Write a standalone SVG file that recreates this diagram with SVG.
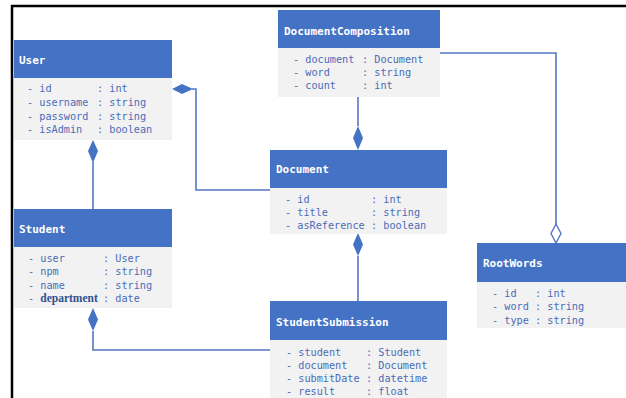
<svg xmlns="http://www.w3.org/2000/svg" width="626" height="398" viewBox="0 0 626 398">
<style>
.hdr{fill:#4472c4}
.body{fill:#f2f2f2}
.title{font-family:"DejaVu Sans Mono","Liberation Mono",monospace;font-size:11px;font-weight:bold;fill:#ffffff}
.attr{font-family:"DejaVu Sans Mono","Liberation Mono",monospace;font-size:10.2px;fill:#4a6cb8}
.conn{fill:none;stroke:#5676c4;stroke-width:1.6}
.fd{fill:#4472c4}
.od{fill:#ffffff;stroke:#5676c4;stroke-width:1.4}
</style>
<rect width="626" height="398" fill="#ffffff"/>
<path d="M12 398 V6 H626" fill="none" stroke="#000000" stroke-width="2.5"/>

<g id="connectors">
  <!-- User - Document -->
  <path class="conn" d="M192 89 H196 V190 H270"/>
  <polygon class="fd" points="172,89 182,84 193,89 182,94"/>
  <!-- User - Student -->
  <path class="conn" d="M93 162 V209"/>
  <polygon class="fd" points="93,140 98,151 93,163 88,151"/>
  <!-- DocumentComposition - Document -->
  <path class="conn" d="M358 97 V126"/>
  <polygon class="fd" points="358,126 363,138 358,150 353,138"/>
  <!-- DocumentComposition - RootWords -->
  <path class="conn" d="M438 53 H556 V224"/>
  <polygon class="od" points="556,224 561,233.5 556,243 551,233.5"/>
  <!-- Document - StudentSubmission -->
  <path class="conn" d="M358 256 V301"/>
  <polygon class="fd" points="358,233 363,244.5 358,256 353,244.5"/>
  <!-- Student - StudentSubmission -->
  <path class="conn" d="M93 331 V350 H270"/>
  <polygon class="fd" points="93,308 98,319.5 93,331 88,319.5"/>
</g>

<g id="User">
  <rect class="hdr" x="14" y="40" width="158" height="38"/>
  <rect class="body" x="14" y="78" width="158" height="62"/>
  <text class="title" x="19" y="64">User</text>
  <text class="attr" x="27" y="92">- id</text><text class="attr" x="97" y="92">: int</text>
  <text class="attr" x="27" y="105.5">- username</text><text class="attr" x="97" y="105.5">: string</text>
  <text class="attr" x="27" y="119.5">- password</text><text class="attr" x="97" y="119.5">: string</text>
  <text class="attr" x="27" y="133">- isAdmin</text><text class="attr" x="97" y="133">: boolean</text>
</g>

<g id="DocumentComposition">
  <rect class="hdr" x="278" y="10" width="162" height="38"/>
  <rect class="body" x="278" y="48" width="162" height="49"/>
  <text class="title" x="284" y="34.5">DocumentComposition</text>
  <text class="attr" x="293" y="63">- document</text><text class="attr" x="362" y="63">: Document</text>
  <text class="attr" x="293" y="76">- word</text><text class="attr" x="362" y="76">: string</text>
  <text class="attr" x="293" y="89">- count</text><text class="attr" x="362" y="89">: int</text>
</g>

<g id="Document">
  <rect class="hdr" x="270" y="150" width="177" height="38"/>
  <rect class="body" x="270" y="188" width="177" height="46"/>
  <text class="title" x="276" y="172.5">Document</text>
  <text class="attr" x="285" y="202.5">- id</text><text class="attr" x="371" y="202.5">: int</text>
  <text class="attr" x="285" y="215.5">- title</text><text class="attr" x="371" y="215.5">: string</text>
  <text class="attr" x="285" y="228.5">- asReference</text><text class="attr" x="371" y="228.5">: boolean</text>
</g>

<g id="Student">
  <rect class="hdr" x="14" y="209" width="158" height="38"/>
  <rect class="body" x="14" y="247" width="158" height="61"/>
  <text class="title" x="19" y="233">Student</text>
  <text class="attr" x="28" y="261.5">- user</text><text class="attr" x="103" y="261.5">: User</text>
  <text class="attr" x="28" y="275">- npm</text><text class="attr" x="103" y="275">: string</text>
  <text class="attr" x="28" y="288.5">- name</text><text class="attr" x="103" y="288.5">: string</text>
  <text class="attr" x="28" y="302">- <tspan font-family="'Liberation Serif',serif" font-weight="bold" font-size="11.5px" fill="#2f4f8f">department</tspan></text><text class="attr" x="103" y="302">: date</text>
</g>

<g id="StudentSubmission">
  <rect class="hdr" x="270" y="301" width="177" height="39"/>
  <rect class="body" x="270" y="340" width="177" height="58"/>
  <text class="title" x="276" y="326">StudentSubmission</text>
  <text class="attr" x="286" y="355.5">- student</text><text class="attr" x="366" y="355.5">: Student</text>
  <text class="attr" x="286" y="368.5">- document</text><text class="attr" x="366" y="368.5">: Document</text>
  <text class="attr" x="286" y="381.5">- submitDate</text><text class="attr" x="366" y="381.5">: datetime</text>
  <text class="attr" x="286" y="394.5">- result</text><text class="attr" x="366" y="394.5">: float</text>
</g>

<g id="RootWords">
  <rect class="hdr" x="477" y="243" width="149" height="39"/>
  <rect class="body" x="477" y="282" width="149" height="46"/>
  <text class="title" x="483" y="267">RootWords</text>
  <text class="attr" x="492" y="296.5">- id</text><text class="attr" x="535" y="296.5">: int</text>
  <text class="attr" x="492" y="310">- word</text><text class="attr" x="535" y="310">: string</text>
  <text class="attr" x="492" y="323.5">- type</text><text class="attr" x="535" y="323.5">: string</text>
</g>
</svg>
